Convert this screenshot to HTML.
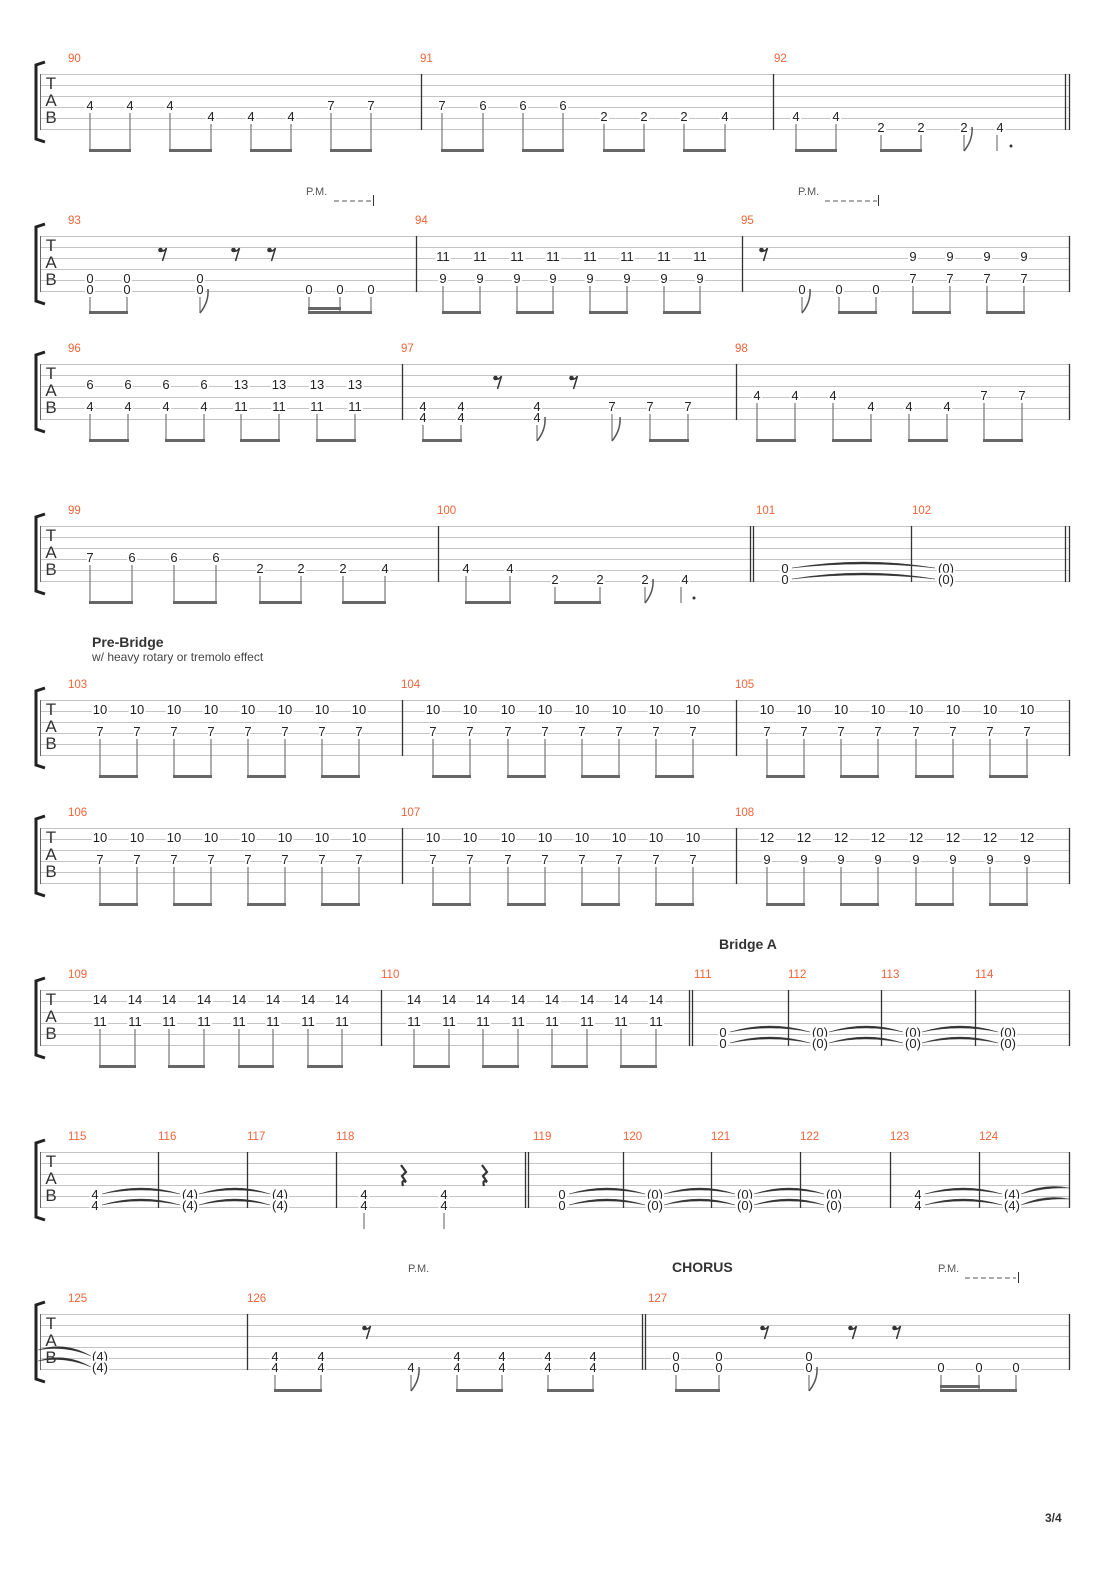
<!DOCTYPE html>
<html><head><meta charset="utf-8">
<style>
html,body{margin:0;padding:0;background:#fff;}
svg{display:block}
.n{font:13px "Liberation Sans",sans-serif;text-anchor:middle;fill:#222;stroke:#fff;stroke-width:4px;paint-order:stroke;font-weight:500;}
.m{font:11.5px "Liberation Sans",sans-serif;fill:#f0643a;}
.tab{font:17px "Liberation Sans",sans-serif;fill:#333;text-anchor:middle;}
.pm{font:11px "Liberation Sans",sans-serif;fill:#555;}
.h{font:bold 14px "Liberation Sans",sans-serif;fill:#333;}
.sub{font:12px "Liberation Sans",sans-serif;fill:#444;}
.st{stroke:#777;stroke-width:1.2;fill:none}
.bm{stroke:#666;stroke-width:3;fill:none}
.bl{stroke:#333;stroke-width:1.3;fill:none}
.tie{fill:#333;stroke:#333;stroke-width:0.4}
</style></head><body>
<svg width="1110" height="1570" viewBox="0 0 1110 1570" xmlns="http://www.w3.org/2000/svg">
<defs>
<g id="staff">
<path d="M40 0.5H1069M40 11.5H1069M40 22.5H1069M40 33.5H1069M40 44.5H1069M40 55.5H1069" stroke="#c4c4c4" stroke-width="1" fill="none"/>
<path d="M40.5 0V56" stroke="#666" stroke-width="1"/>
<path d="M45 -12L36 -9V65L45 68" stroke="#222" stroke-width="3" fill="none"/>
</g>
<g id="r8"><circle cx="-2.5" cy="-4" r="2.3" fill="#333"/><path d="M-3 -3Q1 -2 3.5 -6L-0.5 7" stroke="#333" stroke-width="1.5" fill="none"/></g>
<g id="r4"><path d="M-2 -11L3 -4L-1 0L3 6Q-2 3 0 10" stroke="#333" stroke-width="2.2" fill="none"/></g>
<g id="fl"><path d="M0 77Q9 66 8 53" stroke="#555" stroke-width="1.5" fill="none"/></g>
</defs>

<!-- ROW 1 -->
<g transform="translate(0,74)">
<use href="#staff"/>
<text class="tab" x="51" y="15">T</text><text class="tab" x="51" y="32">A</text><text class="tab" x="51" y="49">B</text>
<path class="bl" d="M421.5 0V56M773.5 0V56M1065.5 0V56M1069.5 0V56"/>
<text class="m" x="68" y="-12">90</text><text class="m" x="420" y="-12">91</text><text class="m" x="774" y="-12">92</text>
<path class="st" d="M90 39V77M130 39V77M170 39V77M211 50V77M251 50V77M291 50V77M331 39V77M371 39V77M442 39V77M483 39V77M523 39V77M563 39V77M604 50V77M644 50V77M684 50V77M725 50V77M796 50V77M836 50V77M881 61V77M921 61V77M964 61V77M997 61V77"/>
<path class="bm" d="M89 76.5H131M169 76.5H212M250 76.5H292M330 76.5H372M441 76.5H484M522 76.5H564M603 76.5H645M683 76.5H726M795 76.5H837M880 76.5H922"/>
<use href="#fl" x="964"/>
<circle cx="1011" cy="72" r="1.5" fill="#333"/>
<text class="n" x="90" y="36">4</text><text class="n" x="130" y="36">4</text><text class="n" x="170" y="36">4</text>
<text class="n" x="211" y="47">4</text><text class="n" x="251" y="47">4</text><text class="n" x="291" y="47">4</text>
<text class="n" x="331" y="36">7</text><text class="n" x="371" y="36">7</text>
<text class="n" x="442" y="36">7</text><text class="n" x="483" y="36">6</text><text class="n" x="523" y="36">6</text><text class="n" x="563" y="36">6</text>
<text class="n" x="604" y="47">2</text><text class="n" x="644" y="47">2</text><text class="n" x="684" y="47">2</text><text class="n" x="725" y="47">4</text>
<text class="n" x="796" y="47">4</text><text class="n" x="836" y="47">4</text>
<text class="n" x="881" y="58">2</text><text class="n" x="921" y="58">2</text><text class="n" x="964" y="58">2</text><text class="n" x="1000" y="58">4</text>
</g>

<!-- ROW 2 -->
<g transform="translate(0,236)">
<use href="#staff"/>
<text class="tab" x="51" y="15">T</text><text class="tab" x="51" y="32">A</text><text class="tab" x="51" y="49">B</text>
<path class="bl" d="M416.5 0V56M742.5 0V56M1069.5 0V56"/>
<text class="m" x="68" y="-12">93</text><text class="m" x="415" y="-12">94</text><text class="m" x="741" y="-12">95</text>
<text class="pm" x="306" y="-41">P.M.</text>
<path d="M334 -35H372" stroke="#777" stroke-width="1.2" stroke-dasharray="5,3"/><path d="M373.5 -41V-30" stroke="#333"/>
<text class="pm" x="798" y="-41">P.M.</text>
<path d="M825 -35H877" stroke="#777" stroke-width="1.2" stroke-dasharray="5,3"/><path d="M878.5 -41V-30" stroke="#333"/>
<use href="#r8" x="163" y="18"/><use href="#r8" x="236" y="18"/><use href="#r8" x="272" y="18"/><use href="#r8" x="764" y="18"/>
<path class="st" d="M90 61V77M127 61V77M200 61V77M309 61V77M340 61V77M371 61V77M443 50V77M480 50V77M517 50V77M553 50V77M590 50V77M627 50V77M664 50V77M700 50V77M802 61V77M839 61V77M876 61V77M913 50V77M950 50V77M987 50V77M1024 50V77"/>
<path class="bm" d="M89 76.5H128M308 76.5H372M308 72.5H341M442 76.5H481M516 76.5H554M589 76.5H628M663 76.5H701M838 76.5H877M912 76.5H951M986 76.5H1025"/>
<use href="#fl" x="200"/><use href="#fl" x="802"/>
<text class="n" x="90" y="47">0</text><text class="n" x="90" y="58">0</text>
<text class="n" x="127" y="47">0</text><text class="n" x="127" y="58">0</text>
<text class="n" x="200" y="47">0</text><text class="n" x="200" y="58">0</text>
<text class="n" x="309" y="58">0</text><text class="n" x="340" y="58">0</text><text class="n" x="371" y="58">0</text>
<text class="n" x="443" y="25">11</text><text class="n" x="480" y="25">11</text><text class="n" x="517" y="25">11</text><text class="n" x="553" y="25">11</text><text class="n" x="590" y="25">11</text><text class="n" x="627" y="25">11</text><text class="n" x="664" y="25">11</text><text class="n" x="700" y="25">11</text>
<text class="n" x="443" y="47">9</text><text class="n" x="480" y="47">9</text><text class="n" x="517" y="47">9</text><text class="n" x="553" y="47">9</text><text class="n" x="590" y="47">9</text><text class="n" x="627" y="47">9</text><text class="n" x="664" y="47">9</text><text class="n" x="700" y="47">9</text>
<text class="n" x="802" y="58">0</text><text class="n" x="839" y="58">0</text><text class="n" x="876" y="58">0</text>
<text class="n" x="913" y="25">9</text><text class="n" x="950" y="25">9</text><text class="n" x="987" y="25">9</text><text class="n" x="1024" y="25">9</text>
<text class="n" x="913" y="47">7</text><text class="n" x="950" y="47">7</text><text class="n" x="987" y="47">7</text><text class="n" x="1024" y="47">7</text>
</g>

<!-- ROW 3 -->
<g transform="translate(0,364)">
<use href="#staff"/>
<text class="tab" x="51" y="15">T</text><text class="tab" x="51" y="32">A</text><text class="tab" x="51" y="49">B</text>
<path class="bl" d="M402.5 0V56M736.5 0V56M1069.5 0V56"/>
<text class="m" x="68" y="-12">96</text><text class="m" x="401" y="-12">97</text><text class="m" x="735" y="-12">98</text>
<use href="#r8" x="498" y="18"/><use href="#r8" x="574" y="18"/>
<path class="st" d="M90 50V77M128 50V77M166 50V77M204 50V77M241 50V77M279 50V77M317 50V77M355 50V77M423 61V77M461 61V77M537 61V77M612 50V77M650 50V77M688 50V77M757 39V77M795 39V77M833 39V77M871 50V77M909 50V77M947 50V77M984 39V77M1022 39V77"/>
<path class="bm" d="M89 76.5H129M165 76.5H205M240 76.5H280M316 76.5H356M422 76.5H462M649 76.5H689M756 76.5H796M832 76.5H872M908 76.5H948M983 76.5H1023"/>
<use href="#fl" x="537"/><use href="#fl" x="612"/>
<text class="n" x="90" y="25">6</text><text class="n" x="128" y="25">6</text><text class="n" x="166" y="25">6</text><text class="n" x="204" y="25">6</text>
<text class="n" x="241" y="25">13</text><text class="n" x="279" y="25">13</text><text class="n" x="317" y="25">13</text><text class="n" x="355" y="25">13</text>
<text class="n" x="90" y="47">4</text><text class="n" x="128" y="47">4</text><text class="n" x="166" y="47">4</text><text class="n" x="204" y="47">4</text>
<text class="n" x="241" y="47">11</text><text class="n" x="279" y="47">11</text><text class="n" x="317" y="47">11</text><text class="n" x="355" y="47">11</text>
<text class="n" x="423" y="47">4</text><text class="n" x="423" y="58">4</text><text class="n" x="461" y="47">4</text><text class="n" x="461" y="58">4</text>
<text class="n" x="537" y="47">4</text><text class="n" x="537" y="58">4</text>
<text class="n" x="612" y="47">7</text><text class="n" x="650" y="47">7</text><text class="n" x="688" y="47">7</text>
<text class="n" x="757" y="36">4</text><text class="n" x="795" y="36">4</text><text class="n" x="833" y="36">4</text>
<text class="n" x="871" y="47">4</text><text class="n" x="909" y="47">4</text><text class="n" x="947" y="47">4</text>
<text class="n" x="984" y="36">7</text><text class="n" x="1022" y="36">7</text>
</g>

<!-- ROW 4 -->
<g transform="translate(0,526)">
<use href="#staff"/>
<text class="tab" x="51" y="15">T</text><text class="tab" x="51" y="32">A</text><text class="tab" x="51" y="49">B</text>
<path class="bl" d="M438.5 0V56M750.5 0V56M753.5 0V56M911.5 0V56M1065.5 0V56M1069.5 0V56"/>
<text class="m" x="68" y="-12">99</text><text class="m" x="437" y="-12">100</text><text class="m" x="756" y="-12">101</text><text class="m" x="912" y="-12">102</text>
<path class="st" d="M90 39V77M132 39V77M174 39V77M216 39V77M260 50V77M301 50V77M343 50V77M385 50V77M466 50V77M510 50V77M555 61V77M600 61V77M645 61V77M681 61V77"/>
<path class="bm" d="M89 76.5H133M173 76.5H217M259 76.5H302M342 76.5H386M465 76.5H511M554 76.5H601"/>
<use href="#fl" x="645"/>
<circle cx="694" cy="72" r="1.5" fill="#333"/>
<path class="tie" d="M792 42Q863 30 935 42Q863 34 792 42ZM792 53Q863 41 935 53Q863 45 792 53Z"/>
<text class="n" x="90" y="36">7</text><text class="n" x="132" y="36">6</text><text class="n" x="174" y="36">6</text><text class="n" x="216" y="36">6</text>
<text class="n" x="260" y="47">2</text><text class="n" x="301" y="47">2</text><text class="n" x="343" y="47">2</text><text class="n" x="385" y="47">4</text>
<text class="n" x="466" y="47">4</text><text class="n" x="510" y="47">4</text>
<text class="n" x="555" y="58">2</text><text class="n" x="600" y="58">2</text><text class="n" x="645" y="58">2</text><text class="n" x="685" y="58">4</text>
<text class="n" x="785" y="47">0</text><text class="n" x="785" y="58">0</text>
<text class="n" x="946" y="47">(0)</text><text class="n" x="946" y="58">(0)</text>
</g>

<text class="h" x="92" y="647">Pre-Bridge</text>
<text class="sub" x="92" y="661">w/ heavy rotary or tremolo effect</text>

<!-- ROW 5 -->
<g transform="translate(0,700)">
<use href="#staff"/>
<text class="tab" x="51" y="15">T</text><text class="tab" x="51" y="32">A</text><text class="tab" x="51" y="49">B</text>
<path class="bl" d="M402.5 0V56M736.5 0V56M1069.5 0V56"/>
<text class="m" x="68" y="-12">103</text><text class="m" x="401" y="-12">104</text><text class="m" x="735" y="-12">105</text>
<path class="st" d="M100 39V77M137 39V77M174 39V77M211 39V77M248 39V77M285 39V77M322 39V77M359 39V77M433 39V77M470 39V77M508 39V77M545 39V77M582 39V77M619 39V77M656 39V77M693 39V77M767 39V77M804 39V77M841 39V77M878 39V77M916 39V77M953 39V77M990 39V77M1027 39V77"/>
<path class="bm" d="M99 76.5H138M173 76.5H212M247 76.5H286M321 76.5H360M432 76.5H471M507 76.5H546M581 76.5H620M655 76.5H694M766 76.5H805M840 76.5H879M915 76.5H954M989 76.5H1028"/>
<text class="n" x="100" y="14">10</text><text class="n" x="137" y="14">10</text><text class="n" x="174" y="14">10</text><text class="n" x="211" y="14">10</text><text class="n" x="248" y="14">10</text><text class="n" x="285" y="14">10</text><text class="n" x="322" y="14">10</text><text class="n" x="359" y="14">10</text>
<text class="n" x="433" y="14">10</text><text class="n" x="470" y="14">10</text><text class="n" x="508" y="14">10</text><text class="n" x="545" y="14">10</text><text class="n" x="582" y="14">10</text><text class="n" x="619" y="14">10</text><text class="n" x="656" y="14">10</text><text class="n" x="693" y="14">10</text>
<text class="n" x="767" y="14">10</text><text class="n" x="804" y="14">10</text><text class="n" x="841" y="14">10</text><text class="n" x="878" y="14">10</text><text class="n" x="916" y="14">10</text><text class="n" x="953" y="14">10</text><text class="n" x="990" y="14">10</text><text class="n" x="1027" y="14">10</text>
<text class="n" x="100" y="36">7</text><text class="n" x="137" y="36">7</text><text class="n" x="174" y="36">7</text><text class="n" x="211" y="36">7</text><text class="n" x="248" y="36">7</text><text class="n" x="285" y="36">7</text><text class="n" x="322" y="36">7</text><text class="n" x="359" y="36">7</text>
<text class="n" x="433" y="36">7</text><text class="n" x="470" y="36">7</text><text class="n" x="508" y="36">7</text><text class="n" x="545" y="36">7</text><text class="n" x="582" y="36">7</text><text class="n" x="619" y="36">7</text><text class="n" x="656" y="36">7</text><text class="n" x="693" y="36">7</text>
<text class="n" x="767" y="36">7</text><text class="n" x="804" y="36">7</text><text class="n" x="841" y="36">7</text><text class="n" x="878" y="36">7</text><text class="n" x="916" y="36">7</text><text class="n" x="953" y="36">7</text><text class="n" x="990" y="36">7</text><text class="n" x="1027" y="36">7</text>
</g>

<!-- ROW 6 -->
<g transform="translate(0,828)">
<use href="#staff"/>
<text class="tab" x="51" y="15">T</text><text class="tab" x="51" y="32">A</text><text class="tab" x="51" y="49">B</text>
<path class="bl" d="M402.5 0V56M736.5 0V56M1069.5 0V56"/>
<text class="m" x="68" y="-12">106</text><text class="m" x="401" y="-12">107</text><text class="m" x="735" y="-12">108</text>
<path class="st" d="M100 39V77M137 39V77M174 39V77M211 39V77M248 39V77M285 39V77M322 39V77M359 39V77M433 39V77M470 39V77M508 39V77M545 39V77M582 39V77M619 39V77M656 39V77M693 39V77M767 39V77M804 39V77M841 39V77M878 39V77M916 39V77M953 39V77M990 39V77M1027 39V77"/>
<path class="bm" d="M99 76.5H138M173 76.5H212M247 76.5H286M321 76.5H360M432 76.5H471M507 76.5H546M581 76.5H620M655 76.5H694M766 76.5H805M840 76.5H879M915 76.5H954M989 76.5H1028"/>
<text class="n" x="100" y="14">10</text><text class="n" x="137" y="14">10</text><text class="n" x="174" y="14">10</text><text class="n" x="211" y="14">10</text><text class="n" x="248" y="14">10</text><text class="n" x="285" y="14">10</text><text class="n" x="322" y="14">10</text><text class="n" x="359" y="14">10</text>
<text class="n" x="433" y="14">10</text><text class="n" x="470" y="14">10</text><text class="n" x="508" y="14">10</text><text class="n" x="545" y="14">10</text><text class="n" x="582" y="14">10</text><text class="n" x="619" y="14">10</text><text class="n" x="656" y="14">10</text><text class="n" x="693" y="14">10</text>
<text class="n" x="767" y="14">12</text><text class="n" x="804" y="14">12</text><text class="n" x="841" y="14">12</text><text class="n" x="878" y="14">12</text><text class="n" x="916" y="14">12</text><text class="n" x="953" y="14">12</text><text class="n" x="990" y="14">12</text><text class="n" x="1027" y="14">12</text>
<text class="n" x="100" y="36">7</text><text class="n" x="137" y="36">7</text><text class="n" x="174" y="36">7</text><text class="n" x="211" y="36">7</text><text class="n" x="248" y="36">7</text><text class="n" x="285" y="36">7</text><text class="n" x="322" y="36">7</text><text class="n" x="359" y="36">7</text>
<text class="n" x="433" y="36">7</text><text class="n" x="470" y="36">7</text><text class="n" x="508" y="36">7</text><text class="n" x="545" y="36">7</text><text class="n" x="582" y="36">7</text><text class="n" x="619" y="36">7</text><text class="n" x="656" y="36">7</text><text class="n" x="693" y="36">7</text>
<text class="n" x="767" y="36">9</text><text class="n" x="804" y="36">9</text><text class="n" x="841" y="36">9</text><text class="n" x="878" y="36">9</text><text class="n" x="916" y="36">9</text><text class="n" x="953" y="36">9</text><text class="n" x="990" y="36">9</text><text class="n" x="1027" y="36">9</text>
</g>

<text class="h" x="719" y="949">Bridge A</text>

<!-- ROW 7 -->
<g transform="translate(0,990)">
<use href="#staff"/>
<text class="tab" x="51" y="15">T</text><text class="tab" x="51" y="32">A</text><text class="tab" x="51" y="49">B</text>
<path class="bl" d="M381.5 0V56M689.5 0V56M692.5 0V56M788.5 0V56M881.5 0V56M975.5 0V56M1069.5 0V56"/>
<text class="m" x="68" y="-12">109</text><text class="m" x="381" y="-12">110</text><text class="m" x="694" y="-12">111</text><text class="m" x="788" y="-12">112</text><text class="m" x="881" y="-12">113</text><text class="m" x="975" y="-12">114</text>
<path class="st" d="M100 39V77M135 39V77M169 39V77M204 39V77M239 39V77M273 39V77M308 39V77M342 39V77M414 39V77M449 39V77M483 39V77M518 39V77M552 39V77M587 39V77M621 39V77M656 39V77"/>
<path class="bm" d="M99 76.5H136M168 76.5H205M238 76.5H274M307 76.5H343M413 76.5H450M482 76.5H519M551 76.5H588M620 76.5H657"/>
<path class="tie" d="M730 42Q770 30 810 42Q770 34 730 42ZM730 53Q770 41 810 53Q770 45 730 53ZM829 42Q866 30 903 42Q866 34 829 42ZM829 53Q866 41 903 53Q866 45 829 53ZM922 42Q960 30 998 42Q960 34 922 42ZM922 53Q960 41 998 53Q960 45 922 53Z"/>
<text class="n" x="100" y="14">14</text><text class="n" x="135" y="14">14</text><text class="n" x="169" y="14">14</text><text class="n" x="204" y="14">14</text><text class="n" x="239" y="14">14</text><text class="n" x="273" y="14">14</text><text class="n" x="308" y="14">14</text><text class="n" x="342" y="14">14</text>
<text class="n" x="414" y="14">14</text><text class="n" x="449" y="14">14</text><text class="n" x="483" y="14">14</text><text class="n" x="518" y="14">14</text><text class="n" x="552" y="14">14</text><text class="n" x="587" y="14">14</text><text class="n" x="621" y="14">14</text><text class="n" x="656" y="14">14</text>
<text class="n" x="100" y="36">11</text><text class="n" x="135" y="36">11</text><text class="n" x="169" y="36">11</text><text class="n" x="204" y="36">11</text><text class="n" x="239" y="36">11</text><text class="n" x="273" y="36">11</text><text class="n" x="308" y="36">11</text><text class="n" x="342" y="36">11</text>
<text class="n" x="414" y="36">11</text><text class="n" x="449" y="36">11</text><text class="n" x="483" y="36">11</text><text class="n" x="518" y="36">11</text><text class="n" x="552" y="36">11</text><text class="n" x="587" y="36">11</text><text class="n" x="621" y="36">11</text><text class="n" x="656" y="36">11</text>
<text class="n" x="723" y="47">0</text><text class="n" x="723" y="58">0</text>
<text class="n" x="820" y="47">(0)</text><text class="n" x="820" y="58">(0)</text>
<text class="n" x="913" y="47">(0)</text><text class="n" x="913" y="58">(0)</text>
<text class="n" x="1008" y="47">(0)</text><text class="n" x="1008" y="58">(0)</text>
</g>

<!-- ROW 8 -->
<g transform="translate(0,1152)">
<use href="#staff"/>
<text class="tab" x="51" y="15">T</text><text class="tab" x="51" y="32">A</text><text class="tab" x="51" y="49">B</text>
<path class="bl" d="M158.5 0V56M247.5 0V56M336.5 0V56M525.5 0V56M528.5 0V56M623.5 0V56M711.5 0V56M800.5 0V56M890.5 0V56M979.5 0V56M1069.5 0V56"/>
<text class="m" x="68" y="-12">115</text><text class="m" x="158" y="-12">116</text><text class="m" x="247" y="-12">117</text><text class="m" x="336" y="-12">118</text><text class="m" x="533" y="-12">119</text><text class="m" x="623" y="-12">120</text><text class="m" x="711" y="-12">121</text><text class="m" x="800" y="-12">122</text><text class="m" x="890" y="-12">123</text><text class="m" x="979" y="-12">124</text>
<use href="#r4" x="403" y="24"/><use href="#r4" x="484" y="24"/>
<path class="st" d="M364 61V77M444 61V77"/>
<path class="tie" d="M102 42Q141 30 180 42Q141 34 102 42ZM102 53Q141 41 180 53Q141 45 102 53ZM199 42Q235 30 270 42Q235 34 199 42ZM199 53Q235 41 270 53Q235 45 199 53ZM569 42Q607 30 645 42Q607 34 569 42ZM569 53Q607 41 645 53Q607 45 569 53ZM664 42Q700 30 735 42Q700 34 664 42ZM664 53Q700 41 735 53Q700 45 664 53ZM754 42Q789 30 824 42Q789 34 754 42ZM754 53Q789 41 824 53Q789 45 754 53ZM925 42Q963 30 1002 42Q963 34 925 42ZM925 53Q963 41 1002 53Q963 45 925 53ZM1021 42Q1045 31 1069 36Q1045 35 1021 42ZM1021 53Q1045 42 1069 47Q1045 46 1021 53Z"/>
<text class="n" x="95" y="47">4</text><text class="n" x="95" y="58">4</text>
<text class="n" x="190" y="47">(4)</text><text class="n" x="190" y="58">(4)</text>
<text class="n" x="280" y="47">(4)</text><text class="n" x="280" y="58">(4)</text>
<text class="n" x="364" y="47">4</text><text class="n" x="364" y="58">4</text>
<text class="n" x="444" y="47">4</text><text class="n" x="444" y="58">4</text>
<text class="n" x="562" y="47">0</text><text class="n" x="562" y="58">0</text>
<text class="n" x="655" y="47">(0)</text><text class="n" x="655" y="58">(0)</text>
<text class="n" x="745" y="47">(0)</text><text class="n" x="745" y="58">(0)</text>
<text class="n" x="834" y="47">(0)</text><text class="n" x="834" y="58">(0)</text>
<text class="n" x="918" y="47">4</text><text class="n" x="918" y="58">4</text>
<text class="n" x="1012" y="47">(4)</text><text class="n" x="1012" y="58">(4)</text>
</g>

<!-- ROW 9 -->
<g transform="translate(0,1314)">
<use href="#staff"/>
<path class="tie" d="M38 36Q65 27 91 42Q65 31 38 36ZM38 47Q65 38 91 53Q65 42 38 47Z"/>
<text class="tab" x="51" y="15">T</text><text class="tab" x="51" y="32">A</text><text class="tab" x="51" y="49">B</text>
<path class="bl" d="M247.5 0V56M642.5 0V56M645.5 0V56M1069.5 0V56"/>
<text class="m" x="68" y="-12">125</text><text class="m" x="247" y="-12">126</text><text class="m" x="648" y="-12">127</text>
<text class="pm" x="408" y="-42">P.M.</text>
<text class="h" x="672" y="-42">CHORUS</text>
<text class="pm" x="938" y="-42">P.M.</text>
<path d="M965 -36H1016" stroke="#777" stroke-width="1.2" stroke-dasharray="5,3"/><path d="M1018.5 -42V-31" stroke="#333"/>
<use href="#r8" x="367" y="18"/><use href="#r8" x="765" y="18"/><use href="#r8" x="853" y="18"/><use href="#r8" x="897" y="18"/>
<path class="st" d="M275 61V77M321 61V77M411 61V77M457 61V77M502 61V77M548 61V77M593 61V77M676 61V77M719 61V77M809 61V77M941 61V77M979 61V77M1016 61V77"/>
<path class="bm" d="M274 76.5H322M456 76.5H503M547 76.5H594M675 76.5H720M940 76.5H1017M940 72.5H980"/>
<use href="#fl" x="411"/><use href="#fl" x="809"/>
<text class="n" x="100" y="47">(4)</text><text class="n" x="100" y="58">(4)</text>
<text class="n" x="275" y="47">4</text><text class="n" x="275" y="58">4</text>
<text class="n" x="321" y="47">4</text><text class="n" x="321" y="58">4</text>
<text class="n" x="411" y="58">4</text>
<text class="n" x="457" y="47">4</text><text class="n" x="457" y="58">4</text>
<text class="n" x="502" y="47">4</text><text class="n" x="502" y="58">4</text>
<text class="n" x="548" y="47">4</text><text class="n" x="548" y="58">4</text>
<text class="n" x="593" y="47">4</text><text class="n" x="593" y="58">4</text>
<text class="n" x="676" y="47">0</text><text class="n" x="676" y="58">0</text>
<text class="n" x="719" y="47">0</text><text class="n" x="719" y="58">0</text>
<text class="n" x="809" y="47">0</text><text class="n" x="809" y="58">0</text>
<text class="n" x="941" y="58">0</text><text class="n" x="979" y="58">0</text><text class="n" x="1016" y="58">0</text>
</g>

<text x="1045" y="1522" style="font:bold 12px 'Liberation Sans',sans-serif;fill:#333">3/4</text>
</svg>
</body></html>
